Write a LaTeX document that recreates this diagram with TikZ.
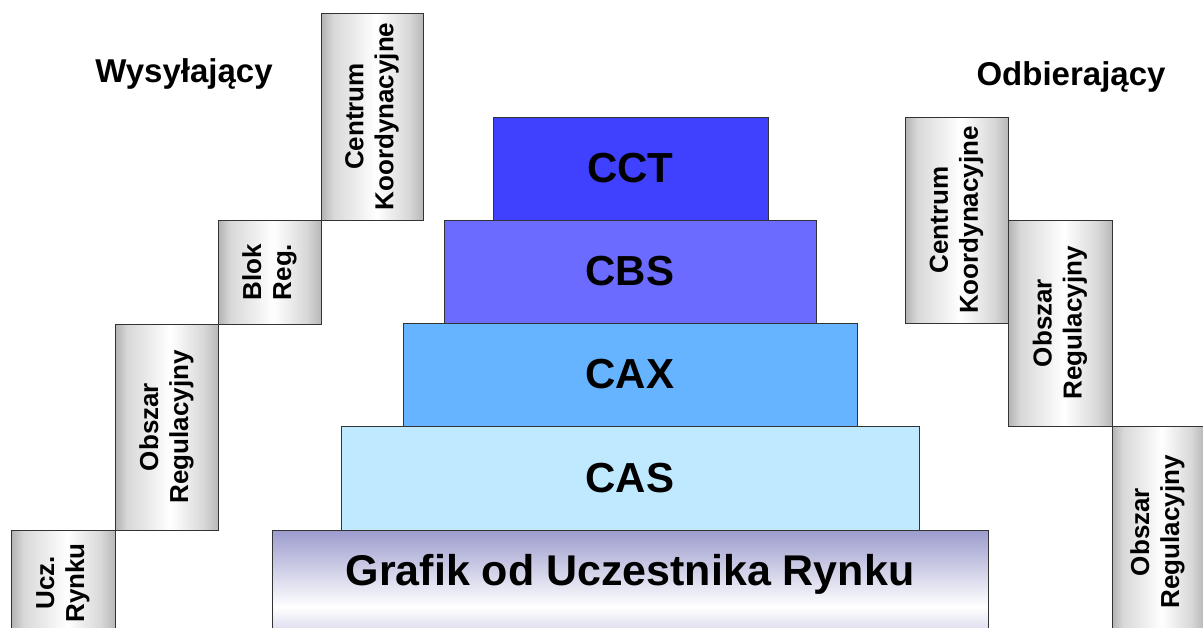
\documentclass[tikz,border=0pt]{standalone}
\usepackage{fontspec}
\setmainfont{Liberation Sans}
\definecolor{cct}{HTML}{4040FF}
\definecolor{cbs}{HTML}{6B6BFF}
\definecolor{cax}{HTML}{66B3FF}
\definecolor{cas}{HTML}{BFE9FF}
\definecolor{edge}{HTML}{333333}
\definecolor{ga}{HTML}{B2B2B2}
\definecolor{gb}{HTML}{D8D8D8}
\definecolor{gc}{HTML}{B8B8B8}
\definecolor{lavt}{HTML}{9C9CCE}
\definecolor{lavb}{HTML}{CDCDE8}
\pgfdeclarehorizontalshading{grayshade}{100bp}{color(0bp)=(ga); color(25bp)=(ga); color(31bp)=(gb); color(52bp)=(white); color(68bp)=(gb); color(75bp)=(gc); color(100bp)=(gc)}
\pgfdeclareverticalshading{grafshade}{100bp}{color(0bp)=(lavb); color(25bp)=(lavb); color(40bp)=(white); color(75bp)=(lavt); color(100bp)=(lavt)}
\begin{document}
\begin{tikzpicture}[x=1pt,y=-1pt,
  tier/.style={draw=edge, line width=0.8pt, inner sep=0pt},
  tiertext/.style={font=\fontsize{42}{46}\selectfont\bfseries},
  gbox/.style={draw=edge, line width=0.8pt, shading=grayshade, inner sep=0pt},
  vlabel/.style={rotate=90, align=center, inner sep=0pt, font=\fontsize{26}{30}\selectfont\bfseries},
  title/.style={anchor=base, inner sep=0pt, font=\fontsize{33}{36}\selectfont\bfseries}]
\clip (0,0) rectangle (1203,627);
% pyramid
\node[tier, fill=cct, minimum width=275pt, minimum height=103pt] (cct) at (630.5,168.5) {};
\node[tiertext] (cctt) at (cct.center) {CCT};
\node[tier, fill=cbs, minimum width=372pt, minimum height=103pt] (cbs) at (630,271.5) {};
\node[tiertext] (cbst) at (cbs.center) {CBS};
\node[tier, fill=cax, minimum width=454pt, minimum height=103pt] (cax) at (630,374.5) {};
\node[tiertext] (caxt) at (cax.center) {CAX};
\node[tier, fill=cas, minimum width=578pt, minimum height=104pt] (cas) at (630,478) {};
\node[tiertext] (cast) at (cas.center) {CAS};
\node[tier, shading=grafshade, minimum width=716pt, minimum height=110pt] (graf) at (630,585) {};
\node[font=\fontsize{43}{46}\selectfont\bfseries] (graft) at (630,574) {Grafik od Uczestnika Rynku};
% left (sending) side
\node[gbox, minimum width=104pt, minimum height=106pt] (ucz) at (63,583) {};
\node[vlabel] (uczt) at (ucz.center) {Ucz.\\Rynku};
\node[gbox, minimum width=103pt, minimum height=206pt] (lobs) at (166.5,427) {};
\node[vlabel] (lobst) at (lobs.center) {Obszar\\Regulacyjny};
\node[gbox, minimum width=103pt, minimum height=104pt] (blok) at (269.5,272) {};
\node[vlabel] (blokt) at (blok.center) {Blok\\Reg.};
\node[gbox, minimum width=102pt, minimum height=207pt] (lcen) at (372,116.5) {};
\node[vlabel] (lcent) at (lcen.center) {Centrum\\Koordynacyjne};
% right (receiving) side
\node[gbox, minimum width=103pt, minimum height=206pt] (rcen) at (956.5,220) {};
\node[vlabel] (rcent) at (rcen.center) {Centrum\\Koordynacyjne};
\node[gbox, minimum width=104pt, minimum height=206pt] (robsa) at (1060,323) {};
\node[vlabel] (robsat) at (robsa.center) {Obszar\\Regulacyjny};
\node[gbox, minimum width=92pt, minimum height=212pt] (robsb) at (1158,532) {};
\node[vlabel] (robsbt) at (1157.5,532) {Obszar\\Regulacyjny};
% titles
\node[title] (send) at (184,82) {Wysyłający};
\node[title] (recv) at (1071,85) {Odbierający};
\end{tikzpicture}
\end{document}
